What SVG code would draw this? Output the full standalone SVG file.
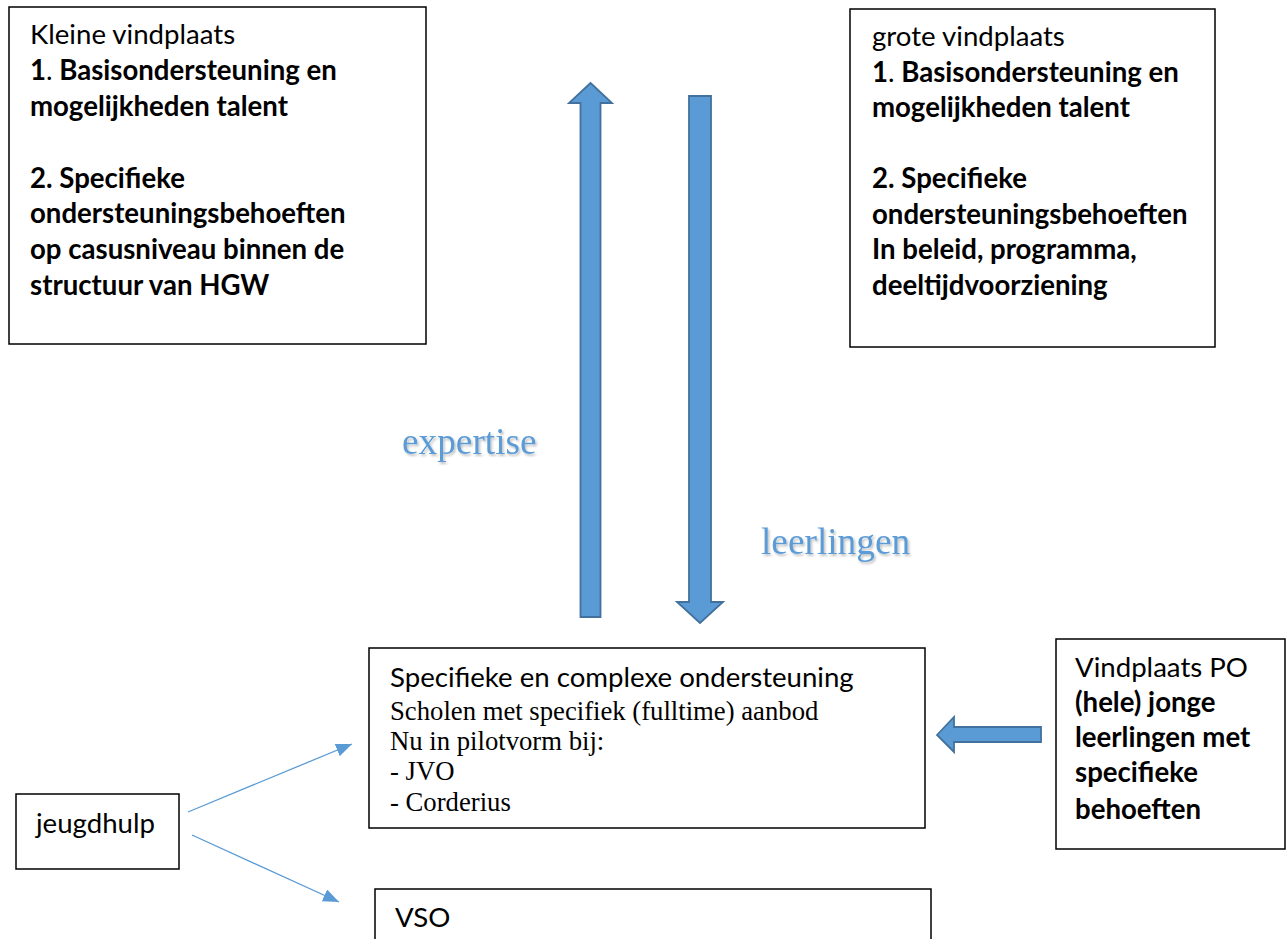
<svg xmlns="http://www.w3.org/2000/svg" width="1287" height="939" viewBox="0 0 1287 939">
<style>
.box{fill:#fff;stroke:#000;stroke-width:1.5}
.sans{font-family:Lato,"Liberation Sans",sans-serif;font-size:27.6px;fill:#000}
.b{font-weight:bold}
.n{font-weight:normal}
.serif{font-family:"Liberation Serif","Times New Roman",serif;font-size:26.7px;fill:#000}
.lbl{font-family:"Liberation Serif","Times New Roman",serif;font-size:37.3px;fill:#5B9BD5;filter:url(#sh)}
.fat{fill:#5B9BD5;stroke:#41719C;stroke-width:1.8;stroke-linejoin:miter}
.thin{fill:none;stroke:#5B9BD5;stroke-width:1.3;marker-end:url(#ah)}
</style>
<defs>
<filter id="sh" x="-10%" y="-20%" width="130%" height="160%">
<feDropShadow dx="1.5" dy="2" stdDeviation="1.2" flood-color="#000" flood-opacity="0.25"/>
</filter>
<marker id="ah" markerUnits="userSpaceOnUse" markerWidth="18" markerHeight="14" refX="16" refY="6.5" orient="auto">
<path d="M0,0 L16,6.5 L0,13 z" fill="#5B9BD5"/>
</marker>
</defs>
<rect width="1287" height="939" fill="#fff"/>

<g id="kleine-vindplaats">
<rect class="box" x="9" y="7" width="417" height="337"/>
<text class="sans" x="30" y="44">Kleine vindplaats</text>
<text class="sans b" x="30" y="80">1<tspan class="n">.</tspan> Basisondersteuning en</text>
<text class="sans b" x="30" y="116">mogelijkheden talent</text>
<text class="sans b" x="30" y="188">2. Specifieke</text>
<text class="sans b" x="30" y="223">ondersteuningsbehoeften</text>
<text class="sans b" x="30" y="259">op casusniveau binnen de</text>
<text class="sans b" x="30" y="295">structuur van HGW</text>
</g>

<g id="grote-vindplaats">
<rect class="box" x="850" y="9" width="365" height="338"/>
<text class="sans" x="872" y="46">grote vindplaats</text>
<text class="sans b" x="872" y="82">1<tspan class="n">.</tspan> Basisondersteuning en</text>
<text class="sans b" x="872" y="117">mogelijkheden talent</text>
<text class="sans b" x="872" y="188">2. Specifieke</text>
<text class="sans b" x="872" y="224">ondersteuningsbehoeften</text>
<text class="sans b" x="872" y="259">In beleid, programma,</text>
<text class="sans b" x="872" y="295">deeltijdvoorziening</text>
</g>

<g id="specifieke">
<rect class="box" x="369" y="648" width="556" height="180"/>
<text class="sans" x="390" y="687">Specifieke en complexe ondersteuning</text>
<text class="serif" x="390" y="720">Scholen met specifiek (fulltime) aanbod</text>
<text class="serif" x="390" y="750">Nu in pilotvorm bij:</text>
<text class="serif" x="390" y="780">- JVO</text>
<text class="serif" x="390" y="811">- Corderius</text>
</g>

<g id="vindplaats-po">
<rect class="box" x="1056" y="639" width="229" height="210"/>
<text class="sans" x="1075" y="677">Vindplaats PO</text>
<text class="sans b" x="1075" y="712">(hele) jonge</text>
<text class="sans b" x="1075" y="747">leerlingen met</text>
<text class="sans b" x="1075" y="782">specifieke</text>
<text class="sans b" x="1075" y="819">behoeften</text>
</g>

<g id="jeugdhulp">
<rect class="box" x="16" y="794" width="163" height="75"/>
<text class="sans" x="36" y="833">jeugdhulp</text>
</g>

<g id="vso">
<rect class="box" x="375" y="889" width="556" height="60"/>
<text class="sans" x="395" y="927">VSO</text>
</g>

<g id="labels">
<text class="lbl" x="402" y="454">expertise</text>
<text class="lbl" x="761" y="554">leerlingen</text>
</g>

<g id="connectors">
<polygon class="fat" points="590.5,83 612,103 600.5,103 600.5,617 580.5,617 580.5,103 569,103"/>
<polygon class="fat" points="689,96 711,96 711,602 723,602 700,623 677,602 689,602"/>
<polygon class="fat" points="937,735 954,717 954,727 1041,727 1041,742 954,742 954,752"/>
<line class="thin" x1="188" y1="812" x2="352" y2="744"/>
<line class="thin" x1="192" y1="835" x2="339" y2="902"/>
</g>
</svg>
